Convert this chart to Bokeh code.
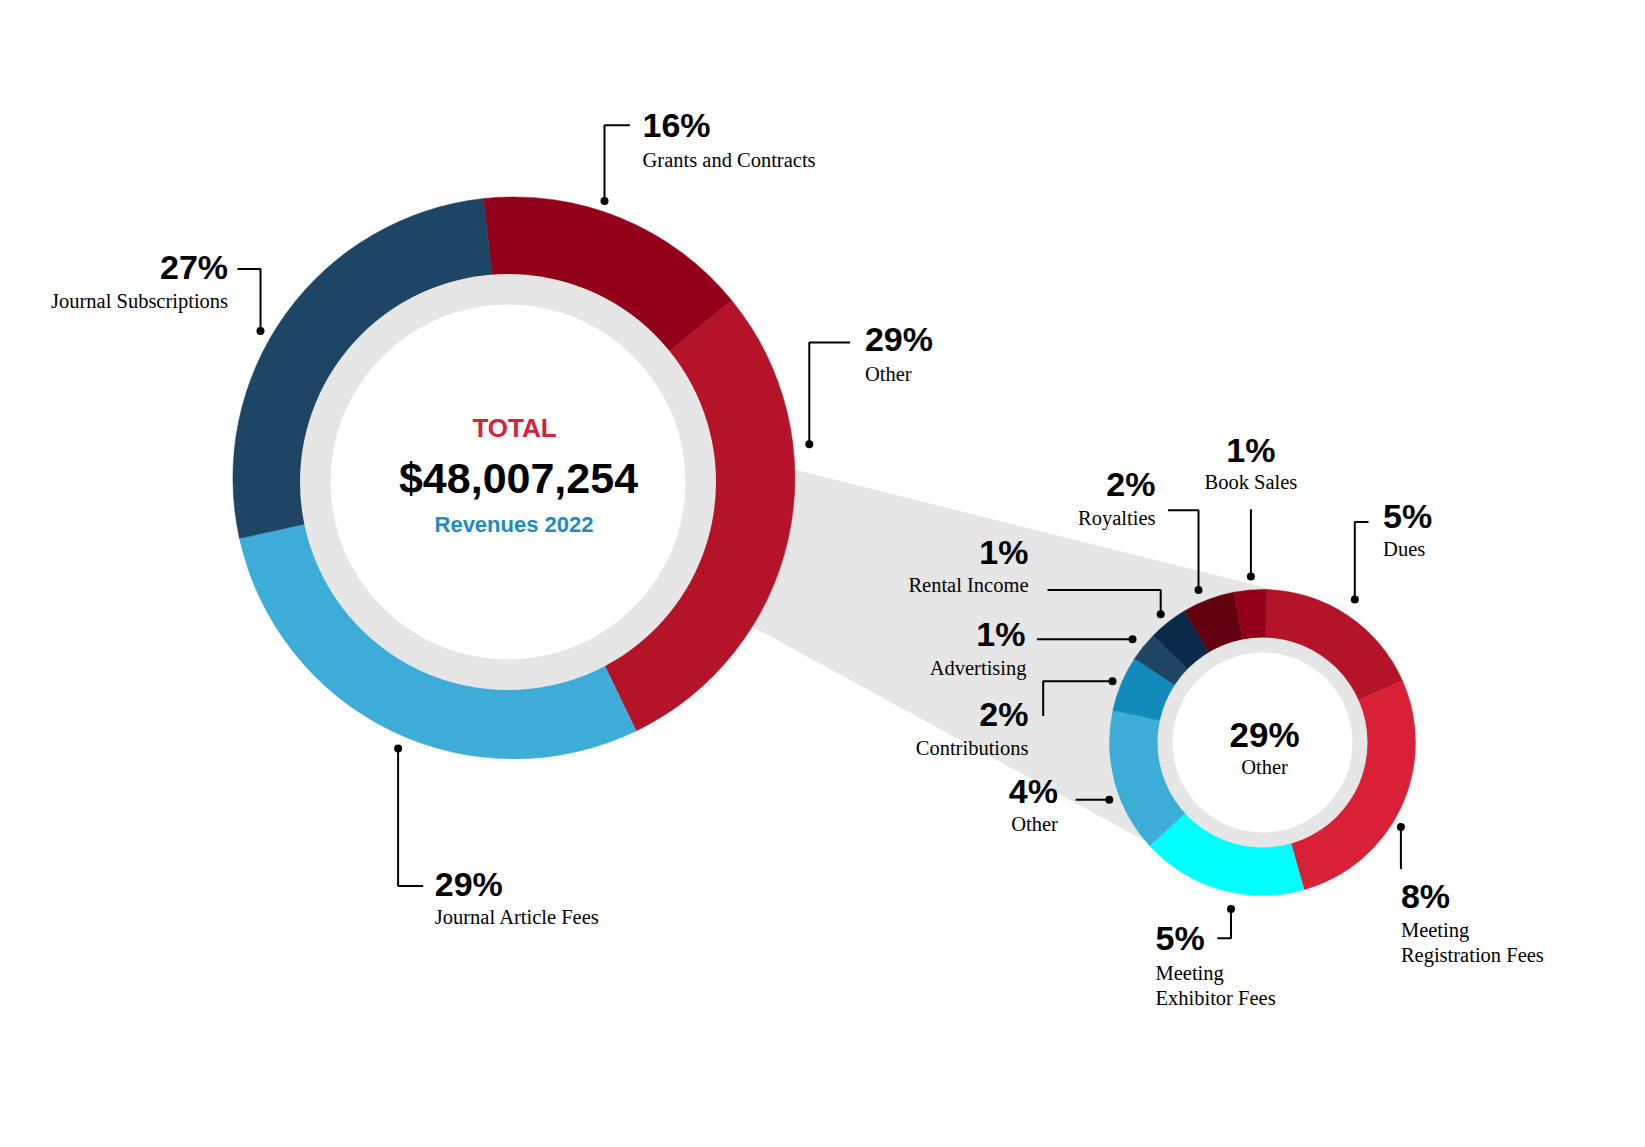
import numpy as np
from bokeh.plotting import figure
from bokeh.models import Range1d
from bokeh.core.properties import value
from bokeh.embed import file_html
from bokeh.resources import INLINE

# ---------------- data ----------------
main_categories = ["Grants and Contracts", "Other", "Journal Article Fees", "Journal Subscriptions"]
main_pct = [16, 29, 29, 27]
main_colors = ["#930019", "#B5132A", "#3DADD8", "#1F4565"]

other_categories = ["Dues", "Meeting Registration Fees", "Meeting Exhibitor Fees", "Other",
                    "Contributions", "Advertising", "Rental Income", "Royalties", "Book Sales"]
other_pct = [5, 8, 5, 4, 2, 1, 1, 2, 1]                       # printed labels
other_share = [5.2, 7.9, 5.1, 4.4, 1.7, 0.9, 1.2, 1.6, 1.0]   # slice sizes
other_colors = ["#B5132A", "#DA2037", "#00FFFF", "#3DADD8", "#138BBA",
                "#1F4565", "#0B2A4A", "#62000F", "#930019"]

total_title = "TOTAL"
total_value = "$48,007,254"
total_sub = "Revenues 2022"
other_total = 29

# ---------------- layout helpers ----------------
PAGE_H = 1147
W, H = 1629, 1131


def Y(v):
    return PAGE_H - np.asarray(v, dtype=float)


p = figure(width=W, height=H, x_range=Range1d(0, W), y_range=Range1d(PAGE_H - H, PAGE_H),
           output_backend="svg", toolbar_location=None, x_axis_type=None, y_axis_type=None,
           min_border=0, outline_line_color=None, background_fill_color="white")
p.xgrid.visible = False
p.ygrid.visible = False

GRAY = "#E6E6E6"
SANS = value("Liberation Sans")
SERIF = value("Liberation Serif")

# big donut geometry (screen coords)
BCX, BCY, BR = 513.4, 477.4, 281
BICX, BICY, BRI, BRW = 507.5, 481.5, 208, 177.5
# small donut geometry
SCX, SCY, SR = 1262, 742, 153
SRI, SRW = 105, 90

# connecting cone
cone_x = [784, 1284, SCX, 1160, 748, BCX]
cone_y = [466.6, 592, SCY, 849, 624, BCY]
p.patch(cone_x, Y(cone_y), fill_color=GRAY, line_color=None)


def donut(cx, cy, r, vals, colors, start_cw):
    vals = np.asarray(vals, dtype=float)
    spans = vals / vals.sum() * 360.0
    ends = start_cw + np.cumsum(spans)
    starts = ends - spans
    # clockwise-from-top -> bokeh ccw-from-x
    s_ang = np.radians(90 - ends)
    e_ang = np.radians(90 - starts)
    p.wedge(x=[cx] * len(vals), y=list(Y([cy] * len(vals))), radius=r,
            start_angle=s_ang, end_angle=e_ang, fill_color=colors,
            line_color=colors, line_width=0.5)


donut(BCX, BCY, BR, main_pct, main_colors, -6.2)
p.circle(x=[BICX], y=Y([BICY]), radius=BRI, fill_color=GRAY, line_color=None)
p.circle(x=[BICX], y=Y([BICY]), radius=BRW, fill_color="white", line_color=None)

donut(SCX, SCY, SR, other_share, other_colors, 1.6)
p.circle(x=[SCX], y=Y([SCY]), radius=SRI, fill_color=GRAY, line_color=None)
p.circle(x=[SCX], y=Y([SCY]), radius=SRW, fill_color="white", line_color=None)

# ---------------- leader lines ----------------
leaders = [
    ([604, 604, 629.4], [200.4, 124.8, 124.8]),          # grants
    ([237, 260, 260], [268.5, 268.5, 330.4]),             # journal subs
    ([849.7, 808.8, 808.8], [342, 342, 443.7]),           # other
    ([397.6, 397.6, 422.7], [748, 885.4, 885.4]),         # article fees
    ([1250.4, 1250.4], [508.8, 576]),                     # book sales
    ([1167.5, 1198, 1198], [509.8, 509.8, 589.5]),        # royalties
    ([1368, 1354.3, 1354.3], [521.4, 521.4, 599]),        # dues
    ([1047, 1160.2, 1160.2], [589.5, 589.5, 613.7]),      # rental
    ([1036.4, 1132], [638.8, 638.8]),                     # advertising
    ([1042.7, 1042.7, 1112], [715.4, 680.8, 680.8]),      # contributions
    ([1075.2, 1108.8], [799.3, 799.3]),                   # other 4%
    ([1216.8, 1230.5, 1230.5], [937.8, 937.8, 908.4]),    # exhibitor
    ([1400.4, 1400.4], [826.6, 868.6]),                   # registration
]
p.multi_line(xs=[l[0] for l in leaders], ys=[list(Y(l[1])) for l in leaders],
             line_color="black", line_width=2)
dots_x = [604, 260, 808.8, 397.6, 1250.4, 1198, 1354.3, 1160.2, 1132, 1112, 1108.8, 1230.5, 1400.4]
dots_y = [200.4, 330.4, 443.7, 748, 576, 589.5, 599, 613.7, 638.8, 680.8, 799.3, 908.4, 826.6]
p.scatter(x=dots_x, y=Y(dots_y), size=8, fill_color="black", line_color=None)

# ---------------- labels ----------------
PCT_FS = 34
NAME_FS = 20.5


def pct_text(x, cy, txt, align, fs=PCT_FS):
    p.text(x=[x], y=Y([cy]), text=[txt], text_align=align,
           text_baseline="middle", text_font=SANS, text_font_style="bold",
           text_font_size=f"{fs}px", text_color="black")


def name_text(x, cy, txt, align):
    p.text(x=[x], y=Y([cy]), text=[txt], text_align=align,
           text_baseline="middle", text_font=SERIF,
           text_font_size=f"{NAME_FS}px", text_color="black")


def fmt(v):
    return f"{v}%"


# big donut labels
pct_text(642, 124.8, fmt(main_pct[0]), "left"); name_text(642, 159.4, main_categories[0], "left")
pct_text(864.4, 338.8, fmt(main_pct[1]), "left"); name_text(864.4, 373.4, main_categories[1], "left")
pct_text(434.3, 883.3, fmt(main_pct[2]), "left"); name_text(434.3, 916.8, main_categories[2], "left")
pct_text(227.6, 266.4, fmt(main_pct[3]), "right"); name_text(227.6, 300, main_categories[3], "right")

# small donut labels
pct_text(1382.6, 515, fmt(other_pct[0]), "left"); name_text(1382.6, 548.6, other_categories[0], "left")
pct_text(1400.4, 895.8, fmt(other_pct[1]), "left")
name_text(1400.4, 929.4, "Meeting", "left"); name_text(1400.4, 954.6, "Registration Fees", "left")
pct_text(1155, 937.8, fmt(other_pct[2]), "left")
name_text(1155, 972.4, "Meeting", "left"); name_text(1155, 997.6, "Exhibitor Fees", "left")
pct_text(1057.4, 790, fmt(other_pct[3]), "right"); name_text(1057.4, 823.5, other_categories[3], "right")
pct_text(1028, 713.3, fmt(other_pct[4]), "right"); name_text(1028, 747, other_categories[4], "right")
pct_text(1025, 633.6, fmt(other_pct[5]), "right"); name_text(1026, 667, other_categories[5], "right")
pct_text(1028, 551.8, fmt(other_pct[6]), "right"); name_text(1028, 584.3, other_categories[6], "right")
pct_text(1155, 483.6, fmt(other_pct[7]), "right"); name_text(1155, 517, other_categories[7], "right")
pct_text(1250.4, 449, fmt(other_pct[8]), "center"); name_text(1250.4, 481.5, other_categories[8], "center")

# small donut centre
pct_text(1264, 734.3, fmt(other_total), "center", fs=35)
name_text(1264, 766.8, "Other", "center")

# big donut centre
p.text(x=[514], y=Y([427]), text=[total_title], text_align="center", text_baseline="middle",
       text_font=SANS, text_font_style="bold", text_font_size="26px", text_color="#D7213A")
p.text(x=[518], y=Y([477.5]), text=[total_value], text_align="center", text_baseline="middle",
       text_font=SANS, text_font_style="bold", text_font_size="43px", text_color="black")
p.text(x=[513.5], y=Y([524.2]), text=[total_sub], text_align="center", text_baseline="middle",
       text_font=SANS, text_font_style="bold", text_font_size="22px", text_color="#1C8CC4")

open("out.html", "w").write(file_html(p, INLINE))
